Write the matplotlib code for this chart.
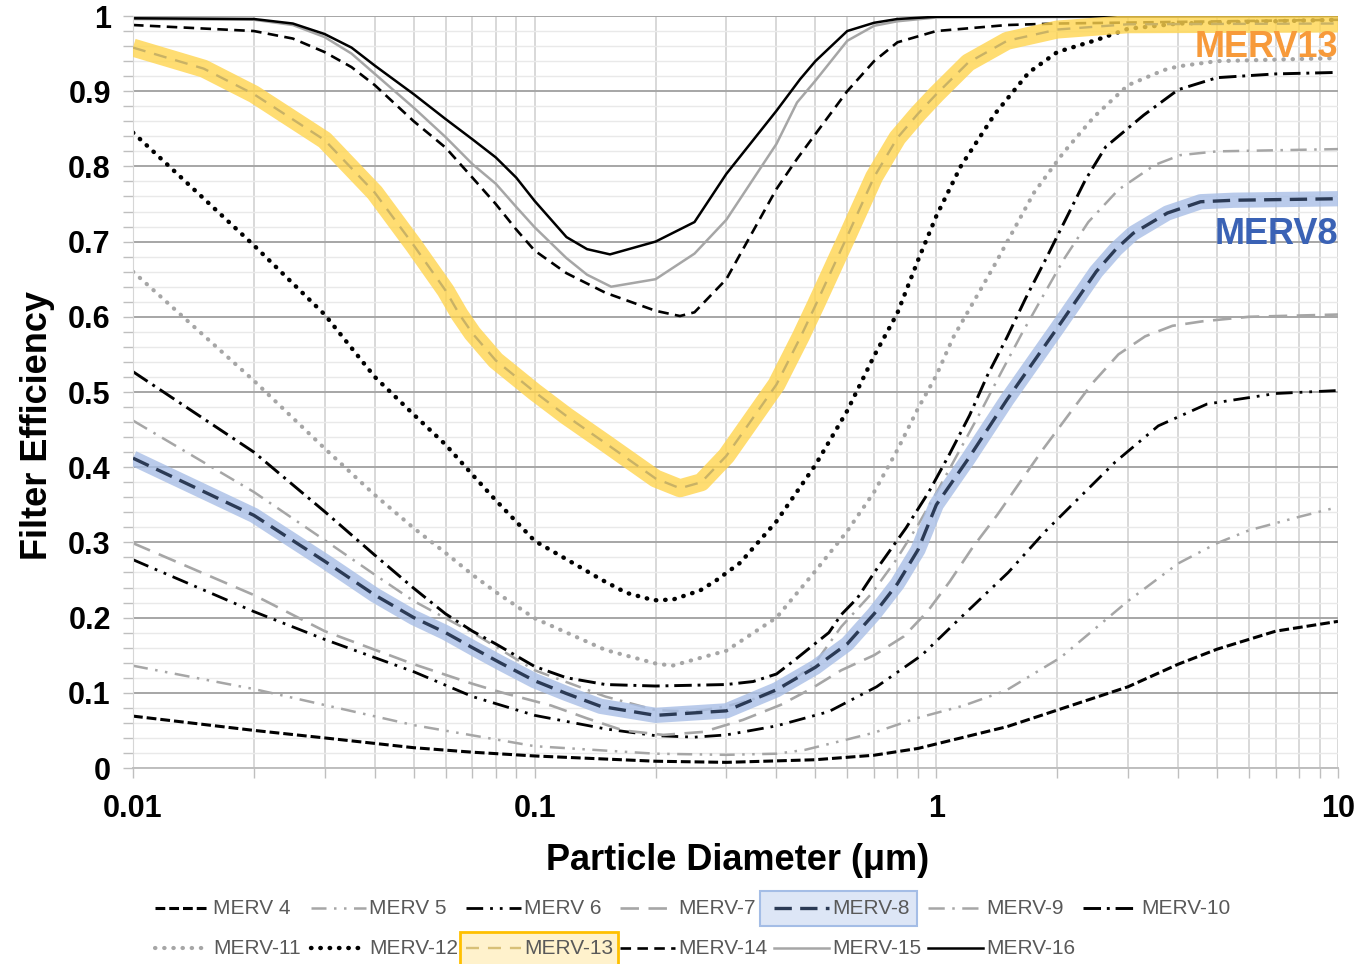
import numpy as np
import matplotlib
matplotlib.use('Agg')
import matplotlib.pyplot as plt
from matplotlib.lines import Line2D
from matplotlib.patches import Rectangle

plt.rcParams['font.family'] = ['Liberation Sans', 'DejaVu Sans']

# filter efficiency curves
m4_x = [0.01, 0.02, 0.03, 0.05, 0.07, 0.1, 0.2, 0.3, 0.5, 0.7, 0.9, 1, 1.5, 2, 3, 4, 5, 7, 10]
m4_y = [0.069, 0.05, 0.04, 0.027, 0.021, 0.016, 0.009, 0.0075, 0.011, 0.017, 0.026, 0.032, 0.055, 0.077, 0.108, 0.138, 0.158, 0.182, 0.195]

m5_x = [0.01, 0.02, 0.05, 0.1, 0.2, 0.3, 0.4, 0.47, 0.59, 0.7, 0.89, 1.17, 1.49, 2.04, 3, 4, 5, 6, 8, 10]
m5_y = [0.136, 0.105, 0.057, 0.029, 0.019, 0.0175, 0.019, 0.024, 0.037, 0.047, 0.066, 0.083, 0.103, 0.147, 0.222, 0.272, 0.299, 0.316, 0.334, 0.347]

m6_x = [0.01, 0.02, 0.03, 0.05, 0.07, 0.1, 0.15, 0.2, 0.25, 0.3, 0.4, 0.54, 0.71, 0.92, 1.15, 1.51, 1.87, 2.79, 3.57, 4.72, 7, 10]
m6_y = [0.277, 0.208, 0.171, 0.128, 0.095, 0.07, 0.052, 0.043, 0.041, 0.044, 0.056, 0.075, 0.108, 0.15, 0.2, 0.26, 0.315, 0.407, 0.455, 0.484, 0.498, 0.502]

m7_x = [0.01, 0.02, 0.03, 0.05, 0.07, 0.082, 0.11, 0.135, 0.166, 0.209, 0.263, 0.33, 0.41, 0.49, 0.58, 0.7, 0.83, 0.95, 1.08, 1.23, 1.42, 1.62, 1.85, 2.13, 2.44, 2.84, 3.31, 3.87, 4.6, 6, 10]
m7_y = [0.299, 0.23, 0.182, 0.138, 0.112, 0.101, 0.083, 0.066, 0.05, 0.044, 0.048, 0.064, 0.084, 0.106, 0.13, 0.15, 0.175, 0.208, 0.248, 0.293, 0.337, 0.381, 0.425, 0.469, 0.511, 0.55, 0.574, 0.588, 0.594, 0.6, 0.603]

m8_x = [0.01, 0.02, 0.03, 0.04, 0.05, 0.06, 0.07, 0.082, 0.1, 0.12, 0.146, 0.2, 0.3, 0.4, 0.5, 0.53, 0.6, 0.7, 0.8, 0.9, 1, 1.2, 1.5, 2, 2.5, 2.8, 3.09, 3.76, 4.55, 5.5, 10]
m8_y = [0.412, 0.336, 0.275, 0.23, 0.2, 0.18, 0.16, 0.14, 0.116, 0.099, 0.082, 0.07, 0.076, 0.104, 0.134, 0.144, 0.165, 0.205, 0.245, 0.29, 0.35, 0.411, 0.49, 0.585, 0.66, 0.69, 0.711, 0.738, 0.753, 0.755, 0.757]

m9_x = [0.01, 0.02, 0.03, 0.04, 0.05, 0.07, 0.1, 0.15, 0.2, 0.25, 0.3, 0.4, 0.5, 0.58, 0.69, 0.79, 0.9, 1.02, 1.15, 1.29, 1.45, 1.63, 1.84, 2.08, 2.39, 2.84, 3.5, 4.05, 5, 10]
m9_y = [0.462, 0.367, 0.303, 0.257, 0.222, 0.18, 0.13, 0.095, 0.077, 0.075, 0.082, 0.1, 0.14, 0.188, 0.232, 0.275, 0.323, 0.374, 0.425, 0.474, 0.526, 0.577, 0.627, 0.677, 0.726, 0.769, 0.802, 0.815, 0.82, 0.823]

m10_x = [0.01, 0.02, 0.03, 0.04, 0.05, 0.06, 0.07, 0.08, 0.1, 0.12, 0.15, 0.2, 0.3, 0.35, 0.4, 0.445, 0.49, 0.54, 0.58, 0.636, 0.705, 0.84, 0.96, 1.08, 1.21, 1.34, 1.5, 1.67, 1.87, 2.35, 2.64, 3.28, 4, 5, 7, 10]
m10_y = [0.527, 0.42, 0.341, 0.283, 0.239, 0.205, 0.182, 0.165, 0.135, 0.12, 0.111, 0.109, 0.111, 0.115, 0.125, 0.144, 0.162, 0.18, 0.204, 0.226, 0.262, 0.319, 0.368, 0.418, 0.469, 0.522, 0.573, 0.625, 0.676, 0.782, 0.826, 0.868, 0.902, 0.918, 0.923, 0.925]

m11_x = [0.01, 0.02, 0.03, 0.04, 0.05, 0.06, 0.07, 0.08, 0.1, 0.15, 0.2, 0.22, 0.3, 0.4, 0.5, 0.6, 0.7, 0.8, 0.9, 1, 1.1, 1.39, 1.75, 2.07, 2.47, 3, 3.68, 4, 5, 7, 10]
m11_y = [0.66, 0.515, 0.425, 0.363, 0.319, 0.286, 0.257, 0.234, 0.199, 0.157, 0.139, 0.136, 0.156, 0.2, 0.262, 0.315, 0.367, 0.423, 0.478, 0.522, 0.572, 0.667, 0.765, 0.818, 0.866, 0.908, 0.928, 0.933, 0.94, 0.942, 0.944]

m12_x = [0.01, 0.02, 0.03, 0.04, 0.05, 0.06, 0.07, 0.08, 0.1, 0.126, 0.146, 0.169, 0.198, 0.221, 0.258, 0.284, 0.325, 0.4, 0.5, 0.6, 0.7, 0.8, 0.9, 1, 1.15, 1.4, 1.7, 2, 2.5, 3, 4, 10]
m12_y = [0.845, 0.695, 0.603, 0.52, 0.47, 0.43, 0.39, 0.356, 0.302, 0.271, 0.251, 0.233, 0.223, 0.224, 0.236, 0.25, 0.273, 0.328, 0.403, 0.475, 0.548, 0.605, 0.675, 0.734, 0.8, 0.87, 0.925, 0.952, 0.968, 0.983, 0.99, 0.995]

m13_x = [0.01, 0.015, 0.02, 0.03, 0.04, 0.05, 0.06, 0.065, 0.07, 0.08, 0.1, 0.12, 0.15, 0.2, 0.23, 0.26, 0.3, 0.4, 0.46, 0.5, 0.6, 0.7, 0.8, 0.9, 1, 1.2, 1.5, 2, 3, 10]
m13_y = [0.958, 0.93, 0.896, 0.835, 0.765, 0.695, 0.635, 0.603, 0.578, 0.542, 0.5, 0.468, 0.432, 0.385, 0.372, 0.38, 0.415, 0.51, 0.574, 0.615, 0.707, 0.786, 0.838, 0.87, 0.896, 0.938, 0.967, 0.982, 0.989, 0.99]

m14_x = [0.01, 0.02, 0.025, 0.03, 0.035, 0.04, 0.05, 0.06, 0.07, 0.08, 0.09, 0.1, 0.12, 0.15, 0.2, 0.23, 0.25, 0.3, 0.4, 0.45, 0.5, 0.6, 0.7, 0.8, 1, 1.5, 2, 10]
m14_y = [0.988, 0.98, 0.97, 0.952, 0.932, 0.908, 0.86, 0.825, 0.785, 0.75, 0.716, 0.688, 0.658, 0.632, 0.608, 0.601, 0.606, 0.65, 0.77, 0.81, 0.843, 0.9, 0.94, 0.965, 0.98, 0.988, 0.99, 0.995]

m15_x = [0.01, 0.02, 0.025, 0.03, 0.035, 0.04, 0.05, 0.06, 0.07, 0.08, 0.09, 0.1, 0.12, 0.135, 0.155, 0.2, 0.25, 0.3, 0.4, 0.45, 0.5, 0.6, 0.7, 0.8, 1, 10]
m15_y = [0.996, 0.995, 0.988, 0.972, 0.95, 0.923, 0.878, 0.839, 0.803, 0.777, 0.746, 0.719, 0.678, 0.656, 0.64, 0.65, 0.684, 0.729, 0.83, 0.885, 0.914, 0.967, 0.987, 0.993, 0.998, 1.0]

m16_x = [0.01, 0.02, 0.025, 0.03, 0.035, 0.04, 0.05, 0.06, 0.07, 0.08, 0.09, 0.1, 0.12, 0.135, 0.154, 0.2, 0.25, 0.3, 0.4, 0.458, 0.5, 0.6, 0.7, 0.8, 1, 10]
m16_y = [0.997, 0.996, 0.99, 0.976, 0.958, 0.934, 0.896, 0.863, 0.836, 0.812, 0.785, 0.754, 0.706, 0.69, 0.683, 0.7, 0.726, 0.79, 0.874, 0.916, 0.94, 0.98, 0.991, 0.996, 0.999, 1.0]

names = ['MERV 4', 'MERV 5', 'MERV 6', 'MERV-7', 'MERV-8', 'MERV-9', 'MERV-10',
         'MERV-11', 'MERV-12', 'MERV-13', 'MERV-14', 'MERV-15', 'MERV-16']
xs = [m4_x, m5_x, m6_x, m7_x, m8_x, m9_x, m10_x, m11_x, m12_x, m13_x, m14_x, m15_x, m16_x]
ys = [m4_y, m5_y, m6_y, m7_y, m8_y, m9_y, m10_y, m11_y, m12_y, m13_y, m14_y, m15_y, m16_y]

GRAY = '#a6a6a6'
styles = [
    dict(color='black', lw=2.2, dashes=(3.2, 1.3)),
    dict(color=GRAY, lw=1.8, dashes=(6, 3, 1, 3, 1, 3)),
    dict(color='black', lw=2.0, dashes=(6, 2.5, 1, 2.5, 1, 2.5)),
    dict(color=GRAY, lw=1.9, dashes=(7, 3.6)),
    dict(color='#2b3a55', lw=2.4, dashes=(5.2, 2.5)),
    dict(color=GRAY, lw=1.8, dashes=(6.5, 3, 1, 3)),
    dict(color='black', lw=2.1, dashes=(6, 2, 1, 2)),
    dict(color=GRAY, lw=3.0, dashes=(0.1, 2.1), dash_capstyle='round'),
    dict(color='black', lw=3.2, dashes=(0.1, 2.0), dash_capstyle='round'),
    dict(color='#c9b265', lw=1.7, dashes=(5.5, 3.8)),
    dict(color='black', lw=1.9, dashes=(4, 2.4)),
    dict(color=GRAY, lw=1.8),
    dict(color='black', lw=1.8),
]

W, H = 1365, 964
fig = plt.figure(figsize=(W / 100, H / 100), dpi=100)
ax = fig.add_axes([133 / W, 1 - 768 / H, (1338 - 133) / W, (768 - 16) / H])
ax.set_xscale('log')
ax.set_xlim(0.01, 10)
ax.set_ylim(0, 1)

# grid
ax.set_yticks(np.round(np.arange(0, 1.01, 0.1), 1))
ax.set_yticks(np.arange(0, 1.001, 0.02), minor=True)
ax.set_yticklabels(['0', '0.1', '0.2', '0.3', '0.4', '0.5', '0.6', '0.7', '0.8', '0.9', '1'])
ax.set_xticks([0.01, 0.1, 1, 10])
ax.set_xticklabels(['0.01', '0.1', '1', '10'])
ax.grid(which='major', axis='y', color='#a6a6a6', lw=1.4)
ax.grid(which='minor', axis='y', color='#e9e9e9', lw=1.0)
ax.grid(which='both', axis='x', color='#d6d6d6', lw=1.3)
ax.set_axisbelow(True)
for s in ['top', 'right']:
    ax.spines[s].set_visible(False)
ax.spines['left'].set_color('#d6d6d6')
ax.spines['bottom'].set_color('#bfbfbf')
ax.spines['bottom'].set_linewidth(1.4)
ax.tick_params(which='both', direction='out', length=7, color='#bfbfbf', width=1)
ax.tick_params(axis='both', which='major', labelsize=22)
ax.tick_params(axis='x', which='major', pad=12)
ax.tick_params(axis='y', which='major', pad=9)
ax.xaxis.set_minor_formatter(plt.NullFormatter())
for lab in ax.get_xticklabels() + ax.get_yticklabels():
    lab.set_fontweight('bold')

# curves
for i, (x, y) in enumerate(zip(xs, ys)):
    z = 2
    if names[i] == 'MERV-8':
        ax.plot(x, y, color='#a9bfe6', lw=11, alpha=0.8, solid_capstyle='butt',
                solid_joinstyle='round', zorder=3)
        z = 4
    if names[i] == 'MERV-13':
        ax.plot(x, y, color='#ffd54f', lw=13, alpha=0.8, solid_capstyle='butt',
                solid_joinstyle='round', zorder=5)
        z = 6
    ax.plot(x, y, zorder=z, **styles[i])

ax.text(10, 0.958, 'MERV13', color='#f79a3a', fontsize=26, fontweight='bold',
        ha='right', va='center', zorder=7)
ax.text(10, 0.71, 'MERV8', color='#3a62b5', fontsize=26, fontweight='bold',
        ha='right', va='center', zorder=7)

fig.text(738 / W, 1 - 860 / H, 'Particle Diameter (\u03bcm)', fontsize=26,
         fontweight='bold', ha='center', va='center')
fig.text(38 / W, 1 - 425 / H, 'Filter Efficiency', fontsize=26, fontweight='bold',
         ha='center', va='center', rotation=90)

# legend, laid out like the spreadsheet legend (two rows)
col_x = [155, 311, 466, 620, 774, 928, 1083]
row_y = [908, 948]
fig.add_artist(Rectangle((760 / W, 1 - 926 / H), 157 / W, 35 / H, transform=fig.transFigure,
                         facecolor='#dde6f6', edgecolor='#a4bde6', lw=1.5))
fig.add_artist(Rectangle((460 / W, 1 - 966 / H), 158 / W, 34 / H, transform=fig.transFigure,
                         facecolor='#fff2cc', edgecolor='#ffc000', lw=2))
for i, name in enumerate(names):
    r = 0 if i < 7 else 1
    c = i if i < 7 else i - 7
    x0 = col_x[c]
    y0 = 1 - row_y[r] / H
    st = dict(styles[i])
    if name == 'MERV-13':
        st['color'] = '#d8c077'
    fig.add_artist(Line2D([x0 / W, (x0 + 55) / W], [y0, y0], transform=fig.transFigure, **st))
    fig.text((x0 + 58) / W, y0, name, fontsize=15, color='#595959', ha='left', va='center')

fig.savefig('out.png', dpi=100)
